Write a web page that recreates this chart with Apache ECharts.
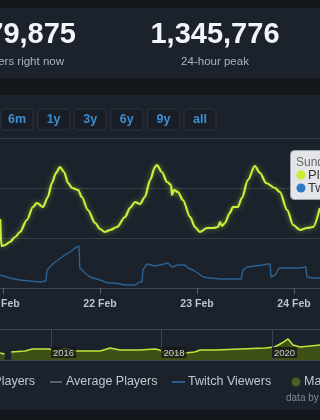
<!DOCTYPE html>
<html><head><meta charset="utf-8">
<style>html,body{margin:0;padding:0;background:#1c222c;}#c{width:320px;height:420px;}</style>
<script src="https://cdn.jsdelivr.net/npm/echarts@6/dist/echarts.min.js"></script>
</head><body><div id="c"></div><script>
// ---- data ----
const statNow = '79,875';
const statNowLabel = 'players right now';
const statPeak = '1,345,776';
const statPeakLabel = '24-hour peak';
const rangeButtons = ['6m','1y','3y','6y','9y','all'];
const xTickLabels = ['20 Feb','21 Feb','22 Feb','23 Feb','24 Feb','25 Feb'];
// hours since 21 Feb 00:00
const hours = [-0.7,-0.4,0.5,1.7,3.0,4.2,5.9,7.4,8.4,9.9,11.1,12.1,13.1,14.1,15.1,16.1,17.1,18.6,19.5,21.0,22.8,24.0,25.2,26.5,28.2,30.2,31.4,32.7,33.9,35.1,36.4,37.6,38.1,39.3,40.6,41.6,41.8,42.3,43.3,44.5,46.3,47.5,48.7,50.5,52.0,53.2,53.7,54.2,54.9,56.1,56.9,58.1,59.1,60.6,62.3,63.6,65.1,67.3,68.5,70.3,71.8,73.5,75.2,76.7,78.4];
const players = [690,420,430,460,510,560,680,810,850,810,910,1050,1150,1210,1160,1050,1000,980,910,780,650,590,560,580,610,710,800,860,840,910,1080,1210,1230,1160,1060,1030,930,980,960,880,710,610,560,600,600,610,660,620,650,750,810,810,900,1080,1220,1150,1050,1000,960,780,630,580,600,610,800].map(v=>v*1000);
const twitchHours = [-0.7,1.7,4.2,9.2,10.6,10.9,12.1,12.9,13.6,14.6,15.3,16.6,17.8,18.8,19.0,20.3,21.5,24.0,26.0,27.7,30.2,32.7,33.9,34.4,34.6,35.6,37.6,38.8,40.8,41.8,43.3,45.0,45.8,47.0,48.2,49.5,51.2,53.7,58.9,59.4,60.4,62.3,64.1,65.6,66.1,66.3,67.3,68.3,71.0,73.5,74.9,75.2,76.7,78.4];
const twitchViewers = [52,40,32,24,28,72,92,104,112,124,132,144,160,168,80,60,44,32,20,20,12,12,24,24,72,96,88,92,100,84,92,92,80,72,60,44,40,36,36,72,84,88,92,96,96,44,52,80,80,80,84,44,40,40].map(v=>v*1000);
const navYears = [2015.08,2015.16,2015.21,2015.28,2015.53,2015.66,2015.98,2016.07,2016.25,2016.43,2016.89,2017.07,2017.25,2017.61,2017.88,2017.97,2018.05,2018.42,2018.60,2018.70,2018.97,2019.42,2019.87,2020.05,2020.18,2020.29,2020.38,2020.51,2020.87];
const navPlayers = [361,310,null,413,464,568,568,413,619,464,464,619,516,516,568,516,361,361,413,516,516,568,619,671,877,1084,774,671,774].map(v=>v==null?null:v*1000);
const tooltipLines = ['Sunday, 25 February 2024','Players: 1,012,436','Twitch Viewers: 81,904'];
const legendItems = ['Players','Average Players','Twitch Viewers','Major updates'];

// ---- chart ----
const FF = '"Liberation Sans", Arial, sans-serif';
const GRID = '#363e4b';
const chart = echarts.init(document.getElementById('c'), null, {renderer:'canvas'});
const g = [];
g.push({type:'rect', z:-10, shape:{x:0,y:0,width:320,height:8}, style:{fill:'#14171c'}});
g.push({type:'rect', z:-10, shape:{x:0,y:78,width:320,height:17}, style:{fill:'#14171c'}});
g.push({type:'rect', z:-10, shape:{x:0,y:410,width:320,height:10}, style:{fill:'#14171c'}});
g.push({type:'text', x:76, y:35, style:{text:statNow, textAlign:'right', textVerticalAlign:'middle', fill:'#f2f4f7', font:'bold 29px '+FF}});
g.push({type:'text', x:64, y:62, style:{text:statNowLabel, textAlign:'right', textVerticalAlign:'middle', fill:'#aab3bf', font:'11.5px '+FF}});
g.push({type:'text', x:215, y:35, style:{text:statPeak, textAlign:'center', textVerticalAlign:'middle', fill:'#f2f4f7', font:'bold 29px '+FF}});
g.push({type:'text', x:215, y:62, style:{text:statPeakLabel, textAlign:'center', textVerticalAlign:'middle', fill:'#aab3bf', font:'11.5px '+FF}});
rangeButtons.forEach((b,i)=>{
  const bx = 1 + i*36.6;
  g.push({type:'rect', shape:{x:bx,y:109,width:32,height:21,r:3}, style:{fill:'#191e26', stroke:'#2d3440', lineWidth:1}});
  g.push({type:'text', x:bx+16, y:120, style:{text:b, textAlign:'center', textVerticalAlign:'middle', fill:'#3a8ed2', font:'bold 12.5px '+FF}});
});
g.push({type:'rect', z:100, shape:{x:290.5,y:150.5,width:40,height:49,r:4}, style:{fill:'rgba(238,240,243,0.95)', stroke:'#9aa3ad', lineWidth:1}});
g.push({type:'text', z:101, x:296, y:163, style:{text:tooltipLines[0], textVerticalAlign:'middle', fill:'#666', font:'12px '+FF}});
g.push({type:'circle', z:101, shape:{cx:301,cy:175,r:4.5}, style:{fill:'#c9f02c'}});
g.push({type:'text', z:101, x:308, y:175, style:{text:tooltipLines[1], textVerticalAlign:'middle', fill:'#333', font:'13px '+FF}});
g.push({type:'circle', z:101, shape:{cx:301,cy:188,r:4.5}, style:{fill:'#2a7ac6'}});
g.push({type:'text', z:101, x:308, y:188, style:{text:tooltipLines[2], textVerticalAlign:'middle', fill:'#333', font:'13px '+FF}});
const LF = '12.5px '+FF, LC = '#c2c8d1';
g.push({type:'text', x:35, y:382, style:{text:legendItems[0], textAlign:'right', textVerticalAlign:'middle', fill:LC, font:LF}});
g.push({type:'line', shape:{x1:50,y1:382,x2:62,y2:382}, style:{stroke:'#56606d', lineWidth:2}});
g.push({type:'text', x:66, y:382, style:{text:legendItems[1], textVerticalAlign:'middle', fill:LC, font:LF}});
g.push({type:'line', shape:{x1:172,y1:382,x2:185,y2:382}, style:{stroke:'#2a5d8c', lineWidth:2}});
g.push({type:'text', x:188, y:382, style:{text:legendItems[2], textVerticalAlign:'middle', fill:LC, font:LF}});
g.push({type:'circle', shape:{cx:296,cy:382,r:4.5}, style:{fill:'#4b5f22'}});
g.push({type:'text', x:304, y:382, style:{text:legendItems[3], textVerticalAlign:'middle', fill:LC, font:LF}});
g.push({type:'text', x:286, y:398, style:{text:'data by SteamDB.info', textVerticalAlign:'middle', fill:'#7f8895', font:'10px '+FF}});

const option = {
  animation:false,
  backgroundColor:'#1c222c',
  grid:[
    {left:-94, right:-71, top:138, bottom:132, outerBoundsMode:'none', containLabel:false},
    {left:-59.5, right:-62.5, top:329, bottom:60, outerBoundsMode:'none', containLabel:false}
  ],
  xAxis:[
    {type:'value', gridIndex:0, min:-24, max:96, interval:24,
     axisLine:{lineStyle:{color:'#3d4553'}},
     axisTick:{show:true, length:6, lineStyle:{color:'#59626f'}},
     splitLine:{show:false},
     axisLabel:{margin:11, color:'#bcc3cd', fontSize:10.5, fontWeight:'bold', fontFamily:FF, hideOverlap:false,
       formatter:v=>xTickLabels[Math.round((v+24)/24)]||''}},
    {type:'value', gridIndex:1, min:2014, max:2022, interval:2, z:5,
     axisLine:{show:false}, axisTick:{show:false},
     splitLine:{show:true, lineStyle:{color:'#3b4452'}},
     axisLabel:{inside:true, margin:2, align:'left', color:'#d0d0d0', fontSize:9.5, fontFamily:FF,
       backgroundColor:'rgba(24,24,24,0.8)', padding:[1,2,0,2], formatter:v=>String(v)}}
  ],
  yAxis:[
    {type:'value', gridIndex:0, min:0, max:1500000, interval:500000,
     axisLabel:{show:false}, axisLine:{show:false}, axisTick:{show:false},
     splitLine:{lineStyle:{color:GRID}}},
    {type:'value', gridIndex:0, min:0, max:600000, show:false, splitLine:{show:false}},
    {type:'value', gridIndex:1, min:0, max:1600000, interval:1600000,
     axisLabel:{show:false}, axisLine:{show:false}, axisTick:{show:false},
     splitLine:{lineStyle:{color:'#3b4452'}}}
  ],
  series:[
    {type:'line', name:'Twitch Viewers', xAxisIndex:0, yAxisIndex:1, symbol:'none',
     data:twitchHours.map((h,i)=>[h,twitchViewers[i]]),
     lineStyle:{color:'#2c6292', width:1.4}},
    {type:'line', name:'Players', xAxisIndex:0, yAxisIndex:0, symbol:'none', smooth:0.3, smoothMonotone:'x',
     data:hours.map((h,i)=>[h,players[i]]),
     lineStyle:{color:'#cbef3c', width:2.2, shadowBlur:5, shadowColor:'rgba(190,240,50,0.55)'}},
    {type:'line', name:'Players (all time)', xAxisIndex:1, yAxisIndex:2, symbol:'none',
     data:navYears.map((y,i)=>[y,navPlayers[i]]),
     lineStyle:{color:'#c4e53c', width:1.5},
     areaStyle:{color:'#3e5016', opacity:1}}
  ],
  graphic:g
};
chart.setOption(option);
</script></body></html>
